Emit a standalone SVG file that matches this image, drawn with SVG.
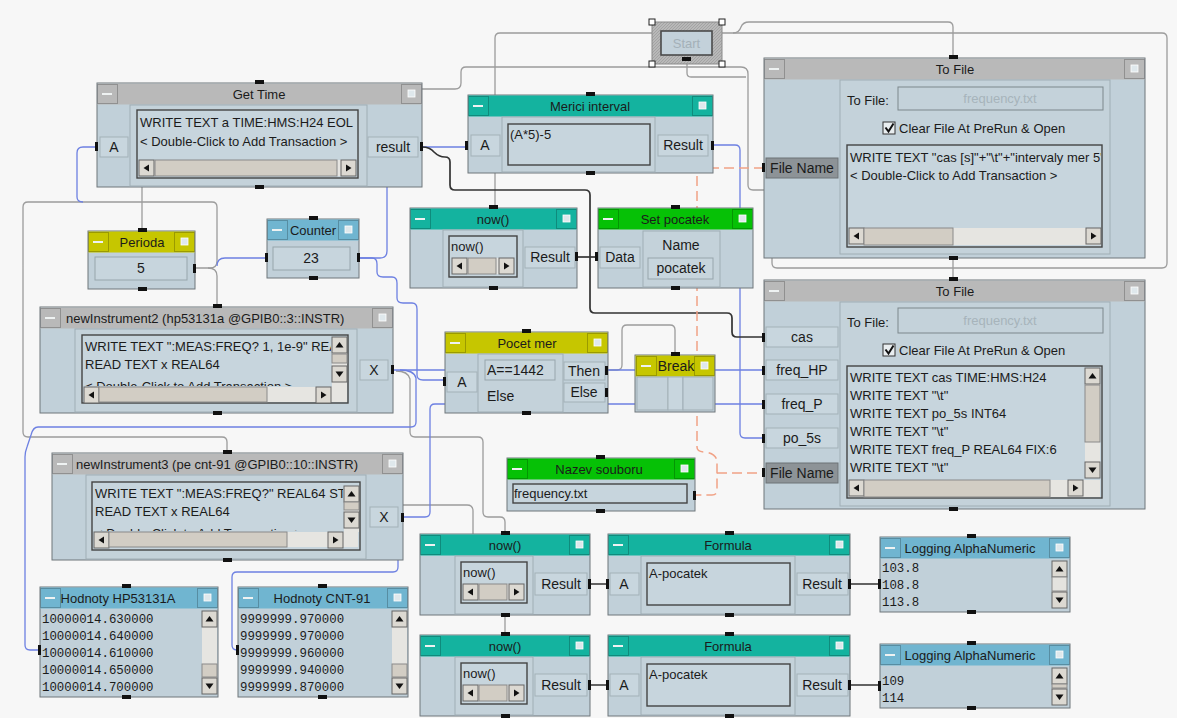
<svg xmlns="http://www.w3.org/2000/svg" width="1177" height="718" viewBox="0 0 1177 718">
<defs>
<style>
.t{font-family:"Liberation Sans",Arial,sans-serif;font-size:13px;fill:#1b1b1b}
.tc{text-anchor:middle}
.pl{font-size:14px}
.mono{font-family:"Liberation Mono","DejaVu Sans Mono",monospace;font-size:12.4px;fill:#1b1b1b}
.fr{fill:#c1d0d9;stroke:#6f777b}
.tg{fill:#b9b9b9}.tt{fill:#14b39f}.tn{fill:#06c106}.ty{fill:#c6c600}.tb{fill:#70b5d0}
.pn{fill:#c8d6de;stroke:#a3b1b8}
.pd{fill:#8d9397;stroke:#6c7276}
.pa{fill:#c4d2da;stroke:#a0aeb5}
.wl{fill:#c7d5dd;stroke:#444;stroke-width:1.4}
.vb{fill:#c7d5dd;stroke:#97a5ac}
.pm{fill:#111}
.sb{fill:#dcd9d2;stroke:#666}
.th{fill:#d2cdc4;stroke:#8a8a8a}
.tk{fill:#e6e5e1}
.ar{fill:#111}
.cg{fill:none;stroke:#9c9c9c;stroke-width:1.3}
.cb{fill:none;stroke:#6d80e2;stroke-width:1.3}
.ck{fill:none;stroke:#333;stroke-width:1.7}
.co{fill:none;stroke:#f1a286;stroke-width:1.5;stroke-dasharray:10 5}
.hd{fill:#fff;stroke:#222}
</style>
<g id="minb"><rect x="0.5" y="0.5" width="20" height="19" fill="none" stroke="#000" stroke-opacity="0.22"/><rect x="5" y="9" width="10" height="2" fill="#eef2f2"/></g>
<g id="maxb"><rect x="0.5" y="0.5" width="20" height="19" fill="none" stroke="#000" stroke-opacity="0.22"/><rect x="7" y="6" width="7" height="7" fill="#dfe8ec" stroke="#ffffff" stroke-width="0.8"/></g>
<g id="sl"><rect class="sb" x="0" y="0" width="15" height="16"/><path class="ar" d="M4.5 8 L10 4.5 V11.5Z"/></g>
<g id="sr"><rect class="sb" x="0" y="0" width="15" height="16"/><path class="ar" d="M10.5 8 L5 4.5 V11.5Z"/></g>
<g id="su"><rect class="sb" x="0" y="0" width="15" height="16"/><path class="ar" d="M7.5 5 L11.5 10.5 H3.5Z"/></g>
<g id="sd"><rect class="sb" x="0" y="0" width="15" height="16"/><path class="ar" d="M7.5 11 L11.5 5.5 H3.5Z"/></g>
<pattern id="hatch" width="3" height="3" patternUnits="userSpaceOnUse"><rect width="3" height="3" fill="#b8b8b8"/><path d="M0 3L3 0" stroke="#9d9d9d" stroke-width="0.8"/></pattern>
<clipPath id="c-tf1"><rect x="848" y="146" width="253" height="80"/></clipPath>
<clipPath id="c-ni2"><rect x="83" y="336" width="248" height="50"/></clipPath>
<clipPath id="c-ni3"><rect x="93" y="483" width="250" height="48"/></clipPath>
</defs>

<rect width="1177" height="718" fill="#f7f7f7"/>

<!-- wiring, drawn underneath the objects -->
<g id="connectors">
  <!-- sequence / control lines -->
  <path class="cg" d="M652 33 H500 Q495 33 495 38 V208"/>
  <path class="cg" d="M422 89 H455 Q461 89 461 83 V72 Q461 67 466 67 H741 Q748 67 748 74 V185 Q748 190 753 190 H764"/>
  <path class="cg" d="M687 60 V73 Q687 77 691 77 H746"/>
  <path class="cg" d="M722 33 H1162 Q1167 33 1167 38 V263 Q1167 268 1162 268 H777 Q772 268 772 263 V253"/>
  <path class="cg" d="M733 33 Q739 33 741 27 Q743 22 749 22 H948 Q953 22 953 27 V58"/>
  <path class="cg" d="M953 258 V280"/>
  <path class="cg" d="M142 187 V231"/>
  <path class="cg" d="M195 268 H210 Q217 268 217 261 V207 Q217 202 212 202 H28 Q23 202 23 207 V432 Q23 437 28 437 H222 Q227 437 227 442 V453"/>
  <path class="cg" d="M208 268 Q217 268 217 276 V307"/>
  <path class="cg" d="M396 371 Q408 371 410 379 V432 Q410 437 415 437 H478 Q483 437 483 442 V512 Q483 517 488 517 H500 Q505 517 505 522 V534"/>
  <path class="cg" d="M403 505 H467 Q473 505 473 511 V534"/>
  <path class="cg" d="M505 615 V635"/>
  <path class="cg" d="M605 370 H617 Q622 370 622 365 V330 Q622 325 627 325 H670 Q675 325 675 330 V355"/>
  <!-- data lines -->
  <path class="cb" d="M422 147 H468"/>
  <path class="cb" d="M97 147 H83 Q77 147 77 153 V197 Q77 202 83 202"/>
  <path class="cb" d="M359 258 H380 Q387 258 387 251 V187"/>
  <path class="cb" d="M217 266 Q217 258 225 258 H267"/>
  <path class="cb" d="M359 258 H372 Q377 258 377 264 V272 Q377 277 383 277 H392 Q397 277 397 283 V298 Q397 303 403 303 H412 Q417 303 417 309 V375 Q417 380 423 380 H445"/>
  <path class="cb" d="M393 370 H764"/>
  <path class="cb" d="M400 370 Q414 370 416 378 V422 Q416 427 411 427 H38 Q33 427 31 435 L27 447 Q25 452 25 457 V645 Q25 650 30 650 H40"/>
  <path class="cb" d="M403 517 H425 Q430 517 430 512 V409 Q430 404 435 404 H764"/>
  <path class="cb" d="M398 556 V567 Q398 572 393 572 H237 Q232 572 232 577 V645 Q232 650 237 650 H238"/>
  <path class="cb" d="M713 145 H735 Q740 145 740 150 V433 Q740 438 745 438 H764"/>
  <!-- value lines -->
  <path class="ck" d="M422 147 Q430 147 434 152 Q439 157 445 157 Q450 157 450 162 V185 Q450 190 455 190 H585 Q590 190 590 195 V308 Q590 313 595 313 H727 Q732 313 732 318 V332 Q732 337 737 337 H764"/>
  <path class="ck" d="M577 257 H598"/>
  <path class="ck" d="M590 584 H608 M850 584 H880 M590 685 H608 M850 685 H880"/>
  <!-- file name lines -->
  <path class="co" d="M764 168 H697 V447 Q697 452 705 452 Q717 454 717 462 V490 Q717 495 712 495 H695"/>
  <path class="co" d="M717 473 H764"/>
</g>

<g id="start">
  <rect x="652" y="22" width="70" height="42" fill="url(#hatch)" stroke="#8a8a8a"/>
  <rect x="661" y="31" width="51" height="24" fill="#c3d1da" stroke="#4a4a4a" stroke-width="1.6"/>
  <text class="t tc" x="686.5" y="48" style="fill:#a3b0b8">Start</text>
  <rect class="pm" x="682" y="57" width="9" height="4"/>
  <rect class="hd" x="649" y="19" width="6" height="6"/>
  <rect class="hd" x="719" y="19" width="6" height="6"/>
  <rect class="hd" x="649" y="61" width="6" height="6"/>
  <rect class="hd" x="719" y="61" width="6" height="6"/>
</g>

<g id="get-time">
  <rect class="fr" x="97" y="83" width="325" height="104"/>
  <rect class="tg" x="97.5" y="83.5" width="324" height="21"/>
  <use href="#minb" x="97" y="84"/><use href="#maxb" x="401" y="84"/>
  <text class="t tc" x="259" y="98.5">Get Time</text>
  <rect class="pa" x="130" y="105" width="237" height="81"/>
  <rect class="wl" x="137" y="110" width="221" height="68"/>
  <text class="t" x="140" y="127">WRITE TEXT a TIME:HMS:H24 EOL</text>
  <text class="t" x="140" y="146">&lt; Double-Click to Add Transaction &gt;</text>
  <rect class="tk" x="139" y="160" width="217" height="16"/>
  <use href="#sl" x="139" y="160"/>
  <rect class="th" x="155" y="160" width="182" height="16"/>
  <use href="#sr" x="341" y="160"/>
  <rect class="pn" x="100" y="137" width="28" height="20"/>
  <text class="t pl tc" x="114" y="152">A</text>
  <rect class="pn" x="368" y="137" width="50" height="20"/>
  <text class="t pl tc" x="393" y="152">result</text>
  <rect class="pm" x="255" y="80" width="9" height="4"/>
  <rect class="pm" x="255" y="185" width="9" height="4"/>
  <rect class="pm" x="95" y="142" width="3" height="9"/>
  <rect class="pm" x="420" y="142" width="3" height="9"/>
</g>

<g id="merici-interval">
  <rect class="fr" x="468" y="95" width="245" height="78"/>
  <rect class="tt" x="468.5" y="95.5" width="244" height="21"/>
  <use href="#minb" x="468" y="96"/><use href="#maxb" x="692" y="96"/>
  <text class="t tc" x="590" y="111">Merici interval</text>
  <rect class="pa" x="502" y="117" width="153" height="55"/>
  <rect class="wl" x="508" y="124" width="142" height="41"/>
  <text class="t" x="510" y="139">(A*5)-5</text>
  <rect class="pn" x="471" y="135" width="29" height="21"/>
  <text class="t pl tc" x="485" y="150">A</text>
  <rect class="pn" x="658" y="135" width="50" height="21"/>
  <text class="t pl tc" x="683" y="150">Result</text>
  <rect class="pm" x="586" y="92" width="9" height="4"/>
  <rect class="pm" x="586" y="171" width="9" height="4"/>
  <rect class="pm" x="465" y="141" width="3" height="9"/>
  <rect class="pm" x="711" y="141" width="3" height="9"/>
</g>

<g id="now-top">
  <rect class="fr" x="410" y="208" width="167" height="80"/>
  <rect class="tt" x="410.5" y="208.5" width="166" height="21"/>
  <use href="#minb" x="410" y="209"/><use href="#maxb" x="556" y="209"/>
  <text class="t tc" x="493" y="224">now()</text>
  <rect class="pa" x="443" y="230" width="80" height="57"/>
  <rect class="wl" x="449" y="236" width="68" height="41"/>
  <text class="t" x="451" y="251">now()</text>
  <rect class="tk" x="452" y="258" width="62" height="16"/>
  <use href="#sl" x="452" y="258"/>
  <rect class="th" x="468" y="258" width="28" height="16"/>
  <use href="#sr" x="499" y="258"/>
  <rect class="pn" x="525" y="247" width="50" height="21"/>
  <text class="t pl tc" x="550" y="262">Result</text>
  <rect class="pm" x="489" y="205" width="9" height="4"/>
  <rect class="pm" x="489" y="286" width="9" height="4"/>
  <rect class="pm" x="575" y="252" width="3" height="9"/>
</g>

<g id="set-pocatek">
  <rect class="fr" x="598" y="208" width="155" height="80"/>
  <rect class="tn" x="598.5" y="208.5" width="154" height="21"/>
  <use href="#minb" x="598" y="209"/><use href="#maxb" x="732" y="209"/>
  <text class="t tc" x="675" y="224">Set pocatek</text>
  <rect class="pa" x="643" y="231" width="77" height="56"/>
  <text class="t pl tc" x="681" y="250">Name</text>
  <rect class="vb" x="648" y="258" width="65" height="21"/>
  <text class="t pl tc" x="681" y="273">pocatek</text>
  <rect class="pn" x="600" y="247" width="40" height="21"/>
  <text class="t pl tc" x="620" y="262">Data</text>
  <rect class="pm" x="671" y="205" width="9" height="4"/>
  <rect class="pm" x="671" y="286" width="9" height="4"/>
  <rect class="pm" x="595" y="252" width="3" height="9"/>
</g>

<g id="to-file-header">
  <rect class="fr" x="764" y="58" width="381" height="200"/>
  <rect class="tg" x="764.5" y="58.5" width="380" height="21"/>
  <use href="#minb" x="764" y="59"/><use href="#maxb" x="1124" y="59"/>
  <text class="t tc" x="955" y="74">To File</text>
  <rect class="pa" x="840" y="80" width="270" height="174"/>
  <text class="t" x="847" y="105">To File:</text>
  <rect x="898" y="87" width="205" height="23" fill="#c4d2da" stroke="#7d878c"/>
  <text class="t tc" x="1000" y="103" style="fill:#a7b4bb">frequency.txt</text>
  <rect x="883" y="122" width="12" height="12" fill="#e9eef0" stroke="#333"/>
  <path d="M885.5 127.5 L888.5 131.5 L893.5 123.5" fill="none" stroke="#111" stroke-width="2"/>
  <text class="t" x="899" y="133">Clear File At PreRun &amp; Open</text>
  <rect class="wl" x="847" y="145" width="255" height="102"/>
  <g clip-path="url(#c-tf1)">
    <text class="t" x="850" y="162">WRITE TEXT "cas [s]"+"\t"+"intervaly mer 5"</text>
    <text class="t" x="850" y="180">&lt; Double-Click to Add Transaction &gt;</text>
  </g>
  <rect class="tk" x="849" y="228" width="252" height="17"/>
  <use href="#sl" x="849" y="228"/>
  <rect class="th" x="864" y="228" width="89" height="17"/>
  <use href="#sr" x="1086" y="228"/>
  <rect class="pd" x="766" y="158" width="72" height="20"/>
  <text class="t pl tc" x="802" y="173">File Name</text>
  <rect class="pm" x="949" y="55" width="9" height="4"/>
  <rect class="pm" x="949" y="256" width="9" height="4"/>
  <rect class="pm" x="762" y="163" width="3" height="9"/>
</g>

<g id="to-file-data">
  <rect class="fr" x="764" y="280" width="381" height="229"/>
  <rect class="tg" x="764.5" y="280.5" width="380" height="21"/>
  <use href="#minb" x="764" y="281"/><use href="#maxb" x="1124" y="281"/>
  <text class="t tc" x="955" y="296">To File</text>
  <rect class="pa" x="840" y="302" width="270" height="204"/>
  <text class="t" x="847" y="327">To File:</text>
  <rect x="898" y="308" width="205" height="25" fill="#c4d2da" stroke="#7d878c"/>
  <text class="t tc" x="1000" y="325" style="fill:#a7b4bb">frequency.txt</text>
  <rect x="883" y="344" width="12" height="12" fill="#e9eef0" stroke="#333"/>
  <path d="M885.5 349.5 L888.5 353.5 L893.5 345.5" fill="none" stroke="#111" stroke-width="2"/>
  <text class="t" x="899" y="355">Clear File At PreRun &amp; Open</text>
  <rect class="wl" x="847" y="366" width="255" height="132"/>
  <text class="t" x="850" y="382">WRITE TEXT cas TIME:HMS:H24</text>
  <text class="t" x="850" y="400">WRITE TEXT "\t"</text>
  <text class="t" x="850" y="418">WRITE TEXT po_5s INT64</text>
  <text class="t" x="850" y="436">WRITE TEXT "\t"</text>
  <text class="t" x="850" y="454">WRITE TEXT freq_P REAL64 FIX:6</text>
  <text class="t" x="850" y="472">WRITE TEXT "\t"</text>
  <rect class="tk" x="1085" y="368" width="15" height="110"/>
  <use href="#su" x="1085" y="368"/>
  <rect class="th" x="1085" y="385" width="15" height="57"/>
  <use href="#sd" x="1085" y="462"/>
  <rect class="tk" x="849" y="480" width="251" height="17"/>
  <use href="#sl" x="849" y="480"/>
  <rect class="th" x="864" y="480" width="186" height="17"/>
  <use href="#sr" x="1068" y="480"/>
  <rect class="pn" x="766" y="327" width="72" height="20"/>
  <text class="t pl tc" x="802" y="342">cas</text>
  <rect class="pn" x="766" y="360" width="72" height="20"/>
  <text class="t pl tc" x="802" y="375">freq_HP</text>
  <rect class="pn" x="766" y="394" width="72" height="20"/>
  <text class="t pl tc" x="802" y="409">freq_P</text>
  <rect class="pn" x="766" y="428" width="72" height="20"/>
  <text class="t pl tc" x="802" y="443">po_5s</text>
  <rect class="pd" x="766" y="463" width="72" height="20"/>
  <text class="t pl tc" x="802" y="478">File Name</text>
  <rect class="pm" x="949" y="277" width="9" height="4"/>
  <rect class="pm" x="949" y="507" width="9" height="4"/>
  <rect class="pm" x="762" y="333" width="3" height="9"/>
  <rect class="pm" x="762" y="366" width="3" height="9"/>
  <rect class="pm" x="762" y="400" width="3" height="9"/>
  <rect class="pm" x="762" y="434" width="3" height="9"/>
  <rect class="pm" x="762" y="468" width="3" height="9"/>
</g>

<g id="perioda">
  <rect class="fr" x="88" y="231" width="107" height="58"/>
  <rect class="ty" x="88.5" y="231.5" width="106" height="21"/>
  <use href="#minb" x="88" y="232"/><use href="#maxb" x="174" y="232"/>
  <text class="t tc" x="142" y="247">Perioda</text>
  <rect class="vb" x="95" y="257" width="92" height="23"/>
  <text class="t pl tc" x="141" y="273">5</text>
  <rect class="pm" x="138" y="228" width="9" height="4"/>
  <rect class="pm" x="138" y="287" width="9" height="4"/>
  <rect class="pm" x="193" y="264" width="3" height="9"/>
</g>

<g id="counter">
  <rect class="fr" x="267" y="219" width="92" height="59"/>
  <rect class="tb" x="267.5" y="219.5" width="91" height="21"/>
  <use href="#minb" x="267" y="220"/><use href="#maxb" x="338" y="220"/>
  <text class="t tc" x="313" y="235">Counter</text>
  <rect class="vb" x="273" y="247" width="77" height="23"/>
  <text class="t pl tc" x="311" y="263">23</text>
  <rect class="pm" x="309" y="216" width="9" height="4"/>
  <rect class="pm" x="309" y="276" width="9" height="4"/>
  <rect class="pm" x="265" y="253" width="3" height="9"/>
  <rect class="pm" x="357" y="253" width="3" height="9"/>
</g>

<g id="new-instrument2">
  <rect class="fr" x="40" y="307" width="353" height="106"/>
  <rect class="tg" x="40.5" y="307.5" width="352" height="21"/>
  <use href="#minb" x="40" y="308"/><use href="#maxb" x="372" y="308"/>
  <text class="t" x="66" y="323">newInstrument2 (hp53131a @GPIB0::3::INSTR)</text>
  <rect class="pa" x="75" y="329" width="282" height="83"/>
  <rect class="wl" x="82" y="335" width="266" height="68"/>
  <g clip-path="url(#c-ni2)">
    <text class="t" x="85" y="351">WRITE TEXT ":MEAS:FREQ? 1, 1e-9" REAL64</text>
    <text class="t" x="85" y="369">READ TEXT x REAL64</text>
    <text class="t" x="85" y="391">&lt; Double-Click to Add Transaction &gt;</text>
  </g>
  <rect class="tk" x="332" y="337" width="15" height="50"/>
  <use href="#su" x="332" y="337"/>
  <rect class="th" x="332" y="354" width="15" height="9"/>
  <use href="#sd" x="332" y="366"/>
  <rect class="tk" x="84" y="387" width="263" height="15"/>
  <use href="#sl" x="84" y="387"/>
  <rect class="th" x="99" y="387" width="168" height="15"/>
  <use href="#sr" x="316" y="387"/>
  <rect class="pn" x="360" y="360" width="28" height="20"/>
  <text class="t pl tc" x="374" y="375">X</text>
  <rect class="pm" x="213" y="304" width="9" height="4"/>
  <rect class="pm" x="213" y="411" width="9" height="4"/>
  <rect class="pm" x="391" y="365" width="3" height="9"/>
</g>

<g id="pocet-mer">
  <rect class="fr" x="445" y="332" width="163" height="81"/>
  <rect class="ty" x="445.5" y="332.5" width="162" height="21"/>
  <use href="#minb" x="445" y="333"/><use href="#maxb" x="587" y="333"/>
  <text class="t tc" x="527" y="348">Pocet mer</text>
  <rect class="pa" x="478" y="354" width="85" height="58"/>
  <rect class="vb" x="485" y="360" width="70" height="20"/>
  <text class="t pl" x="487" y="375">A==1442</text>
  <text class="t pl" x="487" y="401">Else</text>
  <rect class="pn" x="447" y="372" width="30" height="20"/>
  <text class="t pl tc" x="462" y="387">A</text>
  <rect class="pn" x="564" y="362" width="41" height="18"/>
  <text class="t pl tc" x="584" y="376">Then</text>
  <rect class="pn" x="564" y="383" width="41" height="19"/>
  <text class="t pl tc" x="584" y="397">Else</text>
  <rect class="pm" x="522" y="329" width="9" height="4"/>
  <rect class="pm" x="522" y="411" width="9" height="4"/>
  <rect class="pm" x="443" y="377" width="3" height="9"/>
  <rect class="pm" x="605" y="366" width="3" height="9"/>
  <rect class="pm" x="605" y="388" width="3" height="9"/>
</g>

<g id="break">
  <rect class="fr" x="635" y="355" width="80" height="57"/>
  <rect class="ty" x="635.5" y="355.5" width="79" height="21"/>
  <use href="#minb" x="636" y="356"/><use href="#maxb" x="694" y="356"/>
  <text class="t pl tc" x="676" y="371">Break</text>
  <rect class="pa" x="637" y="377" width="31" height="33"/>
  <rect class="pn" x="668" y="377" width="15" height="33"/>
  <rect class="pa" x="683" y="377" width="30" height="33"/>
  <rect class="pm" x="671" y="352" width="9" height="4"/>
</g>

<g id="nazev-souboru">
  <rect class="fr" x="507" y="458" width="188" height="53"/>
  <rect class="tn" x="507.5" y="458.5" width="187" height="21"/>
  <use href="#minb" x="507" y="459"/><use href="#maxb" x="674" y="459"/>
  <text class="t tc" x="599" y="474">Nazev souboru</text>
  <rect class="wl" x="513" y="484" width="174" height="19"/>
  <text class="t" x="514" y="498">frequency.txt</text>
  <rect class="pm" x="596" y="455" width="9" height="4"/>
  <rect class="pm" x="596" y="509" width="9" height="4"/>
  <rect class="pm" x="693" y="491" width="3" height="9"/>
</g>

<g id="new-instrument3">
  <rect class="fr" x="52" y="453" width="351" height="107"/>
  <rect class="tg" x="52.5" y="453.5" width="350" height="21"/>
  <use href="#minb" x="52" y="454"/><use href="#maxb" x="382" y="454"/>
  <text class="t" x="76" y="469">newInstrument3 (pe cnt-91 @GPIB0::10::INSTR)</text>
  <rect class="pa" x="86" y="475" width="280" height="84"/>
  <rect class="wl" x="92" y="482" width="268" height="68"/>
  <g clip-path="url(#c-ni3)">
    <text class="t" x="95" y="498">WRITE TEXT ":MEAS:FREQ?" REAL64 STD</text>
    <text class="t" x="95" y="516">READ TEXT x REAL64</text>
    <text class="t" x="95" y="538">&lt; Double-Click to Add Transaction &gt;</text>
  </g>
  <rect class="tk" x="344" y="486" width="15" height="46"/>
  <use href="#su" x="344" y="486"/>
  <rect class="th" x="344" y="502" width="15" height="8"/>
  <use href="#sd" x="344" y="512"/>
  <rect class="tk" x="94" y="532" width="264" height="15"/>
  <use href="#sl" x="94" y="532"/>
  <rect class="th" x="109" y="532" width="178" height="15"/>
  <use href="#sr" x="328" y="532"/>
  <rect class="pn" x="370" y="507" width="28" height="20"/>
  <text class="t pl tc" x="384" y="522">X</text>
  <rect class="pm" x="223" y="450" width="9" height="4"/>
  <rect class="pm" x="223" y="558" width="9" height="4"/>
  <rect class="pm" x="401" y="513" width="3" height="9"/>
</g>

<g id="hodnoty-hp53131a">
  <rect class="fr" x="40" y="587" width="178" height="110"/>
  <rect class="tb" x="40.5" y="587.5" width="177" height="21"/>
  <use href="#minb" x="40" y="588"/><use href="#maxb" x="197" y="588"/>
  <text class="t tc" x="118" y="603">Hodnoty HP53131A</text>
  <text class="mono" x="42" y="623">10000014.630000</text>
  <text class="mono" x="42" y="640">10000014.640000</text>
  <text class="mono" x="42" y="657">10000014.610000</text>
  <text class="mono" x="42" y="674">10000014.650000</text>
  <text class="mono" x="42" y="691">10000014.700000</text>
  <rect class="tk" x="202" y="611" width="15" height="82"/>
  <use href="#su" x="202" y="611"/>
  <rect class="th" x="202" y="664" width="15" height="13"/>
  <use href="#sd" x="202" y="678"/>
  <rect class="pm" x="122" y="584" width="9" height="4"/>
  <rect class="pm" x="122" y="695" width="9" height="4"/>
  <rect class="pm" x="38" y="645" width="3" height="10"/>
</g>

<g id="hodnoty-cnt91">
  <rect class="fr" x="238" y="587" width="170" height="110"/>
  <rect class="tb" x="238.5" y="587.5" width="169" height="21"/>
  <use href="#minb" x="238" y="588"/><use href="#maxb" x="387" y="588"/>
  <text class="t tc" x="322" y="603">Hodnoty  CNT-91</text>
  <text class="mono" x="240" y="623">9999999.970000</text>
  <text class="mono" x="240" y="640">9999999.970000</text>
  <text class="mono" x="240" y="657">9999999.960000</text>
  <text class="mono" x="240" y="674">9999999.940000</text>
  <text class="mono" x="240" y="691">9999999.870000</text>
  <rect class="tk" x="392" y="611" width="15" height="82"/>
  <use href="#su" x="392" y="611"/>
  <rect class="th" x="392" y="664" width="15" height="13"/>
  <use href="#sd" x="392" y="678"/>
  <rect class="pm" x="318" y="584" width="9" height="4"/>
  <rect class="pm" x="318" y="695" width="9" height="4"/>
  <rect class="pm" x="236" y="645" width="3" height="10"/>
</g>

<g id="now-a">
  <rect class="fr" x="420" y="534" width="170" height="81"/>
  <rect class="tt" x="420.5" y="534.5" width="169" height="21"/>
  <use href="#minb" x="420" y="535"/><use href="#maxb" x="569" y="535"/>
  <text class="t tc" x="505" y="550">now()</text>
  <rect class="pa" x="455" y="556" width="78" height="58"/>
  <rect class="wl" x="461" y="562" width="66" height="41"/>
  <text class="t" x="463" y="577">now()</text>
  <rect class="tk" x="463" y="584" width="61" height="16"/>
  <use href="#sl" x="463" y="584"/>
  <rect class="th" x="479" y="584" width="28" height="16"/>
  <use href="#sr" x="509" y="584"/>
  <rect class="pn" x="535" y="573" width="52" height="22"/>
  <text class="t pl tc" x="561" y="589">Result</text>
  <rect class="pm" x="501" y="531" width="9" height="4"/>
  <rect class="pm" x="501" y="613" width="9" height="4"/>
  <rect class="pm" x="588" y="579" width="3" height="10"/>
</g>

<g id="formula-a">
  <rect class="fr" x="608" y="534" width="242" height="81"/>
  <rect class="tt" x="608.5" y="534.5" width="241" height="21"/>
  <use href="#minb" x="608" y="535"/><use href="#maxb" x="829" y="535"/>
  <text class="t tc" x="728" y="550">Formula</text>
  <rect class="pa" x="641" y="556" width="154" height="58"/>
  <rect class="wl" x="647" y="563" width="143" height="42"/>
  <text class="t" x="649" y="578">A-pocatek</text>
  <rect class="pn" x="610" y="573" width="29" height="22"/>
  <text class="t pl tc" x="624" y="589">A</text>
  <rect class="pn" x="797" y="573" width="51" height="22"/>
  <text class="t pl tc" x="822" y="589">Result</text>
  <rect class="pm" x="725" y="531" width="9" height="4"/>
  <rect class="pm" x="725" y="613" width="9" height="4"/>
  <rect class="pm" x="606" y="579" width="3" height="10"/>
  <rect class="pm" x="848" y="579" width="3" height="10"/>
</g>

<g id="now-b">
  <rect class="fr" x="420" y="635" width="170" height="81"/>
  <rect class="tt" x="420.5" y="635.5" width="169" height="21"/>
  <use href="#minb" x="420" y="636"/><use href="#maxb" x="569" y="636"/>
  <text class="t tc" x="505" y="651">now()</text>
  <rect class="pa" x="455" y="657" width="78" height="58"/>
  <rect class="wl" x="461" y="663" width="66" height="41"/>
  <text class="t" x="463" y="678">now()</text>
  <rect class="tk" x="463" y="685" width="61" height="16"/>
  <use href="#sl" x="463" y="685"/>
  <rect class="th" x="479" y="685" width="28" height="16"/>
  <use href="#sr" x="509" y="685"/>
  <rect class="pn" x="535" y="674" width="52" height="22"/>
  <text class="t pl tc" x="561" y="690">Result</text>
  <rect class="pm" x="501" y="632" width="9" height="4"/>
  <rect class="pm" x="501" y="714" width="9" height="4"/>
  <rect class="pm" x="588" y="680" width="3" height="10"/>
</g>

<g id="formula-b">
  <rect class="fr" x="608" y="635" width="242" height="81"/>
  <rect class="tt" x="608.5" y="635.5" width="241" height="21"/>
  <use href="#minb" x="608" y="636"/><use href="#maxb" x="829" y="636"/>
  <text class="t tc" x="728" y="651">Formula</text>
  <rect class="pa" x="641" y="657" width="154" height="58"/>
  <rect class="wl" x="647" y="664" width="143" height="42"/>
  <text class="t" x="649" y="679">A-pocatek</text>
  <rect class="pn" x="610" y="674" width="29" height="22"/>
  <text class="t pl tc" x="624" y="690">A</text>
  <rect class="pn" x="797" y="674" width="51" height="22"/>
  <text class="t pl tc" x="822" y="690">Result</text>
  <rect class="pm" x="725" y="632" width="9" height="4"/>
  <rect class="pm" x="725" y="714" width="9" height="4"/>
  <rect class="pm" x="606" y="680" width="3" height="10"/>
  <rect class="pm" x="848" y="680" width="3" height="10"/>
</g>

<g id="logging-a">
  <rect class="fr" x="880" y="537" width="190" height="75"/>
  <rect class="tb" x="880.5" y="537.5" width="189" height="21"/>
  <use href="#minb" x="880" y="538"/><use href="#maxb" x="1049" y="538"/>
  <text class="t tc" x="970" y="553">Logging AlphaNumeric</text>
  <text class="mono" x="882" y="572">103.8</text>
  <text class="mono" x="882" y="589">108.8</text>
  <text class="mono" x="882" y="606">113.8</text>
  <rect class="tk" x="1052" y="561" width="15" height="46"/>
  <use href="#su" x="1052" y="561"/>
  <rect x="1052" y="577" width="15" height="14" fill="#e4e3df" stroke="#8a8a8a"/>
  <use href="#sd" x="1052" y="592"/>
  <rect class="pm" x="967" y="534" width="9" height="4"/>
  <rect class="pm" x="967" y="610" width="9" height="4"/>
  <rect class="pm" x="878" y="579" width="3" height="10"/>
</g>

<g id="logging-b">
  <rect class="fr" x="880" y="644" width="190" height="64"/>
  <rect class="tb" x="880.5" y="644.5" width="189" height="21"/>
  <use href="#minb" x="880" y="645"/><use href="#maxb" x="1049" y="645"/>
  <text class="t tc" x="970" y="660">Logging AlphaNumeric</text>
  <text class="mono" x="882" y="685">109</text>
  <text class="mono" x="882" y="702">114</text>
  <rect class="tk" x="1052" y="668" width="15" height="36"/>
  <use href="#su" x="1052" y="668"/>
  <rect class="th" x="1052" y="684" width="15" height="4"/>
  <use href="#sd" x="1052" y="689"/>
  <rect class="pm" x="967" y="641" width="9" height="4"/>
  <rect class="pm" x="967" y="706" width="9" height="4"/>
  <rect class="pm" x="878" y="681" width="3" height="10"/>
</g>
</svg>
